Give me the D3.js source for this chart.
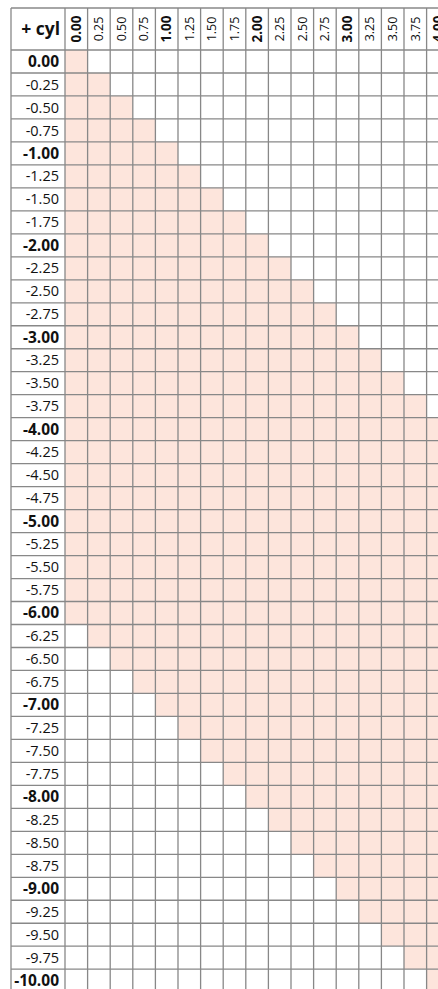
<!DOCTYPE html>
<html>
<head>
<meta charset="utf-8">
<script src="https://cdn.jsdelivr.net/npm/d3@7"></script>
<style>
  html, body { margin: 0; padding: 0; background: #fff; overflow: hidden; }
  svg { display: block; font-family: "Open Sans", sans-serif; }
</style>
</head>
<body>
<svg id="chart" width="438" height="989"></svg>
<script>
// cylinder columns (header)
var cylLabels = ["0.00", "0.25", "0.50", "0.75", "1.00", "1.25", "1.50", "1.75", "2.00",
                 "2.25", "2.50", "2.75", "3.00", "3.25", "3.50", "3.75", "4.00"];

// sphere rows
var sphLabels = ["0.00", "-0.25", "-0.50", "-0.75", "-1.00", "-1.25", "-1.50", "-1.75",
                 "-2.00", "-2.25", "-2.50", "-2.75", "-3.00", "-3.25", "-3.50", "-3.75",
                 "-4.00", "-4.25", "-4.50", "-4.75", "-5.00", "-5.25", "-5.50", "-5.75",
                 "-6.00", "-6.25", "-6.50", "-6.75", "-7.00", "-7.25", "-7.50", "-7.75",
                 "-8.00", "-8.25", "-8.50", "-8.75", "-9.00", "-9.25", "-9.50", "-9.75",
                 "-10.00"];

// first shaded cyl column of each row
var fillFrom = ["0.00", "0.00", "0.00", "0.00", "0.00", "0.00", "0.00", "0.00",
                "0.00", "0.00", "0.00", "0.00", "0.00", "0.00", "0.00", "0.00",
                "0.00", "0.00", "0.00", "0.00", "0.00", "0.00", "0.00", "0.00",
                "0.00", "0.25", "0.50", "0.75", "1.00", "1.25", "1.50", "1.75",
                "2.00", "2.25", "2.50", "2.75", "3.00", "3.25", "3.50", "3.75",
                "4.00"];

// last shaded cyl column of each row
var fillTo = ["0.00", "0.25", "0.50", "0.75", "1.00", "1.25", "1.50", "1.75",
              "2.00", "2.25", "2.50", "2.75", "3.00", "3.25", "3.50", "3.75",
              "4.00", "4.00", "4.00", "4.00", "4.00", "4.00", "4.00", "4.00",
              "4.00", "4.00", "4.00", "4.00", "4.00", "4.00", "4.00", "4.00",
              "4.00", "4.00", "4.00", "4.00", "4.00", "4.00", "4.00", "4.00",
              "4.00"];

var padL = 11, padT = 8, labelW = 54, headH = 42;
var colW = 22.6, rowH = 22.98;

var svg = d3.select('#chart');

var x = d3.scaleBand()
        .domain(cylLabels)
        .range([padL + labelW, padL + labelW + cylLabels.length * colW])
        .padding(0);
var y = d3.scaleBand()
        .domain(sphLabels)
        .range([padT + headH, padT + headH + sphLabels.length * rowH])
        .padding(0);

var isBold = function (s) { return /\.00$/.test(s); };

// cells
var cells = [];
sphLabels.forEach(function (s, i) {
    var a = cylLabels.indexOf(fillFrom[i]),
        b = cylLabels.indexOf(fillTo[i]);
    cylLabels.forEach(function (c, j) {
        cells.push({ s: s, c: c, on: j >= a && j <= b });
    });
});

svg.append('g')
    .selectAll('rect')
    .data(cells)
    .enter()
    .append('rect')
    .attr('x', function (d) { return x(d.c); })
    .attr('y', function (d) { return y(d.s); })
    .attr('width', x.bandwidth())
    .attr('height', y.bandwidth())
    .attr('fill', function (d) { return d.on ? '#fde5dc' : '#fff'; });

// grid lines
var grid = svg.append('g')
        .attr('stroke', '#888')
        .attr('stroke-width', 1.3);
var x0 = padL, x1 = x.range()[1];
var y0 = padT, y1 = y.range()[1];

grid.selectAll('line.v')
    .data([padL].concat(cylLabels.map(function (c) { return x(c); })).concat([x1]))
    .enter()
    .append('line')
    .attr('class', 'v')
    .attr('x1', function (d) { return d; })
    .attr('x2', function (d) { return d; })
    .attr('y1', y0)
    .attr('y2', y1);

grid.selectAll('line.h')
    .data([padT].concat(sphLabels.map(function (s) { return y(s); })).concat([y1]))
    .enter()
    .append('line')
    .attr('class', 'h')
    .attr('x1', x0)
    .attr('x2', x1)
    .attr('y1', function (d) { return d; })
    .attr('y2', function (d) { return d; });

// corner title
svg.append('text')
    .text('+ cyl')
    .attr('x', padL + labelW - 5)
    .attr('y', padT + headH / 2)
    .attr('dy', '.35em')
    .attr('text-anchor', 'end')
    .attr('font-size', 17.5)
    .attr('font-weight', 'bold')
    .attr('fill', '#111');

// column headers (rotated)
svg.append('g')
    .selectAll('text')
    .data(cylLabels)
    .enter()
    .append('text')
    .text(function (d) { return d; })
    .attr('transform', function (d) {
        return 'translate(' + (x(d) + x.bandwidth() / 2) + ',' + (padT + headH / 2) + ') rotate(-90)';
    })
    .attr('dy', '.35em')
    .attr('text-anchor', 'middle')
    .attr('font-size', function (d) { return isBold(d) ? 13.5 : 12.5; })
    .attr('font-weight', function (d) { return isBold(d) ? 'bold' : 'normal'; })
    .attr('fill', '#111');

// row labels
svg.append('g')
    .selectAll('text')
    .data(sphLabels)
    .enter()
    .append('text')
    .text(function (d) { return d; })
    .attr('x', padL + labelW - 6)
    .attr('y', function (d) { return y(d) + y.bandwidth() / 2; })
    .attr('dy', '.35em')
    .attr('text-anchor', 'end')
    .attr('font-size', function (d) { return isBold(d) ? 15.5 : 14.5; })
    .attr('font-weight', function (d) { return isBold(d) ? 'bold' : 'normal'; })
    .attr('fill', '#111');
</script>
</body>
</html>
